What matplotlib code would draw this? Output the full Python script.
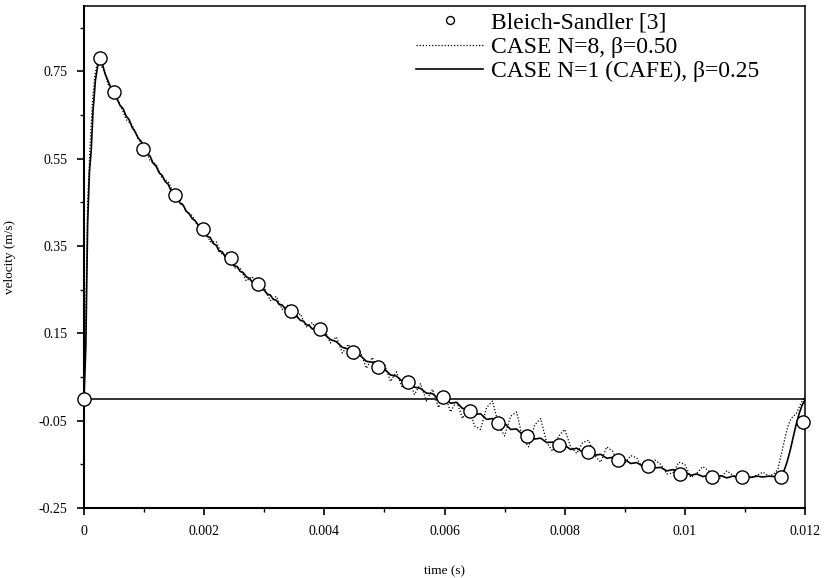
import numpy as np
import matplotlib
matplotlib.use('Agg')
import matplotlib.pyplot as plt

plt.rcParams['font.family'] = ['Liberation Serif', 'DejaVu Serif']

# Bleich-Sandler reference points (time in ms, velocity m/s)
bs_t = [0.0, 0.27, 0.50, 0.98, 1.51, 1.98, 2.45, 2.90, 3.45, 3.93, 4.48, 4.89,
        5.39, 5.98, 6.42, 6.89, 7.37, 7.91, 8.39, 8.89, 9.39, 9.92, 10.45,
        10.95, 11.60, 11.97]
bs_v = [0.0, 0.780, 0.702, 0.573, 0.468, 0.390, 0.323, 0.264, 0.202, 0.161,
        0.108, 0.073, 0.039, 0.005, -0.028, -0.055, -0.085, -0.106, -0.122,
        -0.140, -0.154, -0.172, -0.179, -0.179, -0.179, -0.053]

# CASE N=1 (CAFE), beta=0.25  -- solid
n1_t = [0, 0.03, 0.06, 0.09, 0.12, 0.15, 0.19, 0.23, 0.27, 0.31, 0.35, 0.40,
        0.45, 0.50, 0.55, 0.60, 0.65, 0.70, 0.75, 0.80, 0.85, 0.90, 0.95, 1.00,
        1.05, 1.10, 1.15, 1.20, 1.25, 1.30, 1.35, 1.40, 1.45, 1.50, 1.55, 1.60,
        1.65, 1.70, 1.75, 1.80, 1.85, 1.90, 1.95, 2.00, 2.05, 2.10, 2.15, 2.20,
        2.25, 2.30, 2.35, 2.40, 2.45, 2.50, 2.55, 2.60, 2.65, 2.70, 2.75, 2.80,
        2.85, 2.90, 2.95, 3.00, 3.05, 3.10, 3.15, 3.20, 3.25, 3.30, 3.35, 3.40,
        3.45, 3.50, 3.55, 3.60, 3.65, 3.70, 3.75, 3.80, 3.85, 3.90, 3.95, 4.00,
        4.1, 4.2, 4.3, 4.4, 4.5, 4.6, 4.7, 4.8, 4.9, 5.0, 5.1, 5.2, 5.3, 5.4,
        5.5, 5.6, 5.7, 5.8, 5.9, 6.0, 6.1, 6.2, 6.3, 6.4, 6.5, 6.6, 6.7, 6.8,
        6.9, 7.0, 7.1, 7.2, 7.3, 7.4, 7.5, 7.6, 7.7, 7.8, 7.9, 8.0, 8.1, 8.2,
        8.3, 8.4, 8.5, 8.6, 8.7, 8.8, 8.9, 9.0, 9.1, 9.2, 9.3, 9.4, 9.5, 9.6,
        9.7, 9.8, 9.9, 10.0, 10.1, 10.2, 10.3, 10.4, 10.5, 10.6, 10.7, 10.8,
        10.9, 11.0, 11.1, 11.2, 11.3, 11.4, 11.5, 11.6, 11.65, 11.7, 11.75,
        11.8, 11.85, 11.9, 11.95, 12.0, 12.06]
n1_v = [0, 0.12, 0.40, 0.52, 0.57, 0.66, 0.73, 0.765, 0.775, 0.765, 0.745,
        0.728, 0.712, 0.705, 0.688, 0.672, 0.665, 0.648, 0.640, 0.622, 0.612,
        0.598, 0.590, 0.575, 0.562, 0.556, 0.540, 0.533, 0.518, 0.512, 0.498,
        0.492, 0.476, 0.466, 0.460, 0.448, 0.444, 0.430, 0.424, 0.413, 0.408,
        0.398, 0.390, 0.384, 0.372, 0.370, 0.356, 0.352, 0.338, 0.337, 0.325,
        0.321, 0.318, 0.305, 0.303, 0.292, 0.289, 0.280, 0.276, 0.268, 0.265,
        0.258, 0.252, 0.249, 0.240, 0.238, 0.228, 0.226, 0.216, 0.215, 0.206,
        0.203, 0.200, 0.190, 0.188, 0.180, 0.178, 0.170, 0.168, 0.160, 0.163,
        0.158, 0.150, 0.148, 0.136, 0.131, 0.118, 0.114, 0.104, 0.099, 0.086,
        0.084, 0.072, 0.068, 0.055, 0.052, 0.040, 0.039, 0.027, 0.024, 0.013,
        0.012, 0.000, 0.003, -0.010, -0.008, -0.022, -0.022, -0.036, -0.034,
        -0.047, -0.045, -0.058, -0.056, -0.070, -0.069, -0.082, -0.080, -0.092,
        -0.090, -0.100, -0.099, -0.108, -0.106, -0.116, -0.113, -0.122, -0.120,
        -0.129, -0.127, -0.136, -0.134, -0.142, -0.139, -0.148, -0.146, -0.154,
        -0.151, -0.158, -0.157, -0.165, -0.162, -0.171, -0.168, -0.175, -0.172,
        -0.178, -0.175, -0.180, -0.176, -0.181, -0.177, -0.180, -0.177, -0.180,
        -0.177, -0.179, -0.177, -0.178, -0.176, -0.165, -0.145, -0.120, -0.090,
        -0.060, -0.035, -0.015, -0.002, 0.012]

# CASE N=8, beta=0.50  -- dotted
n8_t = [0, 0.03, 0.06, 0.10, 0.14, 0.18, 0.22, 0.26, 0.30, 0.34, 0.40, 0.45,
        0.5, 0.6, 0.7, 0.8, 0.9, 1.0, 1.1, 1.2, 1.3, 1.4, 1.5, 1.6, 1.7, 1.8,
        1.9, 2.0, 2.1, 2.2, 2.3, 2.4, 2.5, 2.6, 2.7, 2.8, 2.9, 3.0, 3.1, 3.2,
        3.3, 3.4, 3.5, 3.6, 3.7, 3.8, 3.9, 4.0, 4.1, 4.2, 4.3, 4.4, 4.5, 4.6,
        4.7, 4.8, 4.9, 5.0, 5.1, 5.2, 5.3, 5.4, 5.5, 5.6, 5.7, 5.8, 5.9, 6.0,
        6.1, 6.2, 6.3, 6.4, 6.5, 6.6, 6.7, 6.8, 6.9, 7.0, 7.1, 7.2, 7.3, 7.4,
        7.5, 7.6, 7.7, 7.8, 7.9, 8.0, 8.1, 8.2, 8.3, 8.4, 8.5, 8.6, 8.7, 8.8,
        8.9, 9.0, 9.1, 9.2, 9.3, 9.4, 9.5, 9.6, 9.7, 9.8, 9.9, 10.0, 10.1,
        10.2, 10.3, 10.4, 10.5, 10.6, 10.7, 10.8, 10.9, 11.0, 11.1, 11.2, 11.3,
        11.4, 11.5, 11.55, 11.6, 11.65, 11.7, 11.75, 11.8, 11.85, 11.9, 11.95,
        12.0]
n8_v = [0, 0.20, 0.45, 0.58, 0.68, 0.74, 0.77, 0.78, 0.76, 0.75, 0.72, 0.715,
        0.695, 0.675, 0.640, 0.628, 0.595, 0.580, 0.545, 0.538, 0.505, 0.498,
        0.470, 0.455, 0.430, 0.420, 0.395, 0.390, 0.360, 0.360, 0.330, 0.335,
        0.300, 0.300, 0.270, 0.280, 0.250, 0.255, 0.225, 0.235, 0.205, 0.215,
        0.185, 0.195, 0.165, 0.175, 0.148, 0.160, 0.128, 0.142, 0.105, 0.125,
        0.090, 0.108, 0.070, 0.095, 0.055, 0.080, 0.040, 0.062, 0.025, 0.045,
        0.010, 0.035, -0.005, 0.022, -0.020, 0.012, -0.030, -0.005, -0.045,
        -0.015, -0.062, -0.070, -0.020, -0.005, -0.060, -0.085, -0.040, -0.030,
        -0.090, -0.110, -0.060, -0.045, -0.100, -0.120, -0.085, -0.070, -0.110,
        -0.125, -0.100, -0.095, -0.130, -0.145, -0.110, -0.120, -0.150, -0.148,
        -0.130, -0.135, -0.160, -0.165, -0.140, -0.150, -0.172, -0.170, -0.145,
        -0.150, -0.180, -0.170, -0.155, -0.165, -0.190, -0.180, -0.165, -0.175,
        -0.180, -0.170, -0.180, -0.175, -0.168, -0.178, -0.170, -0.160, -0.130,
        -0.100, -0.070, -0.050, -0.040, -0.035, -0.020, -0.005, 0.005]

xticks = [0, 0.002, 0.004, 0.006, 0.008, 0.01, 0.012]
xtick_labels = ['0', '0.002', '0.004', '0.006', '0.008', '0.01', '0.012']
yticks = [-0.25, -0.05, 0.15, 0.35, 0.55, 0.75]
ytick_labels = ['-0.25', '-0.05', '0.15', '0.35', '0.55', '0.75']

fig = plt.figure(figsize=(8.27, 5.78), dpi=100)
ax = fig.add_axes([0.1016, 0.1211, 0.8718, 0.8685])

ax.axhline(0, color='#222222', lw=1.3, zorder=1)

ax.plot(np.array(n8_t) * 1e-3, n8_v, color='black', lw=0.9, ls=(0, (1, 1.5)),
        label='CASE N=8, β=0.50', zorder=2)
ax.plot(np.array(n1_t) * 1e-3, n1_v, color='black', lw=1.2,
        label='CASE N=1 (CAFE), β=0.25', zorder=3)
ax.plot(np.array(bs_t) * 1e-3, bs_v, 'o', ms=9.5, mfc='white', mec='black',
        mew=1.0, label='Bleich-Sandler [3]', zorder=4, clip_on=False)

ax.set_xlim(0, 0.012)
ax.set_ylim(-0.25, 0.9)
ax.set_xticks(xticks)
ax.set_xticklabels(xtick_labels, fontsize=10)
ax.set_xticks(np.arange(0.001, 0.012, 0.002), minor=True)
ax.set_yticks(yticks)
ax.set_yticklabels(ytick_labels, fontsize=10)
ax.set_yticks([-0.15, 0.05, 0.25, 0.45, 0.65, 0.85], minor=True)
ax.tick_params(which='major', direction='out', length=5, width=1.2, pad=7)
ax.tick_params(which='minor', direction='out', length=3, width=1.0)

for s in ['left', 'bottom']:
    ax.spines[s].set_linewidth(1.5)
for s in ['top', 'right']:
    ax.spines[s].set_linewidth(1.1)

ax.set_xlabel('time (s)', fontsize=9.5, labelpad=20)
ax.set_ylabel('velocity (m/s)', fontsize=9.5, labelpad=16)

h, l = ax.get_legend_handles_labels()
order = [2, 0, 1]
ax.legend([h[i] for i in order], [l[i] for i in order], loc='upper right',
          frameon=False, fontsize=17, handlelength=2.8, handletextpad=0.35,
          labelspacing=0.12, markerscale=0.6, borderaxespad=0.2,
          bbox_to_anchor=(0.956, 1.016))

fig.savefig('out.png', dpi=100)
